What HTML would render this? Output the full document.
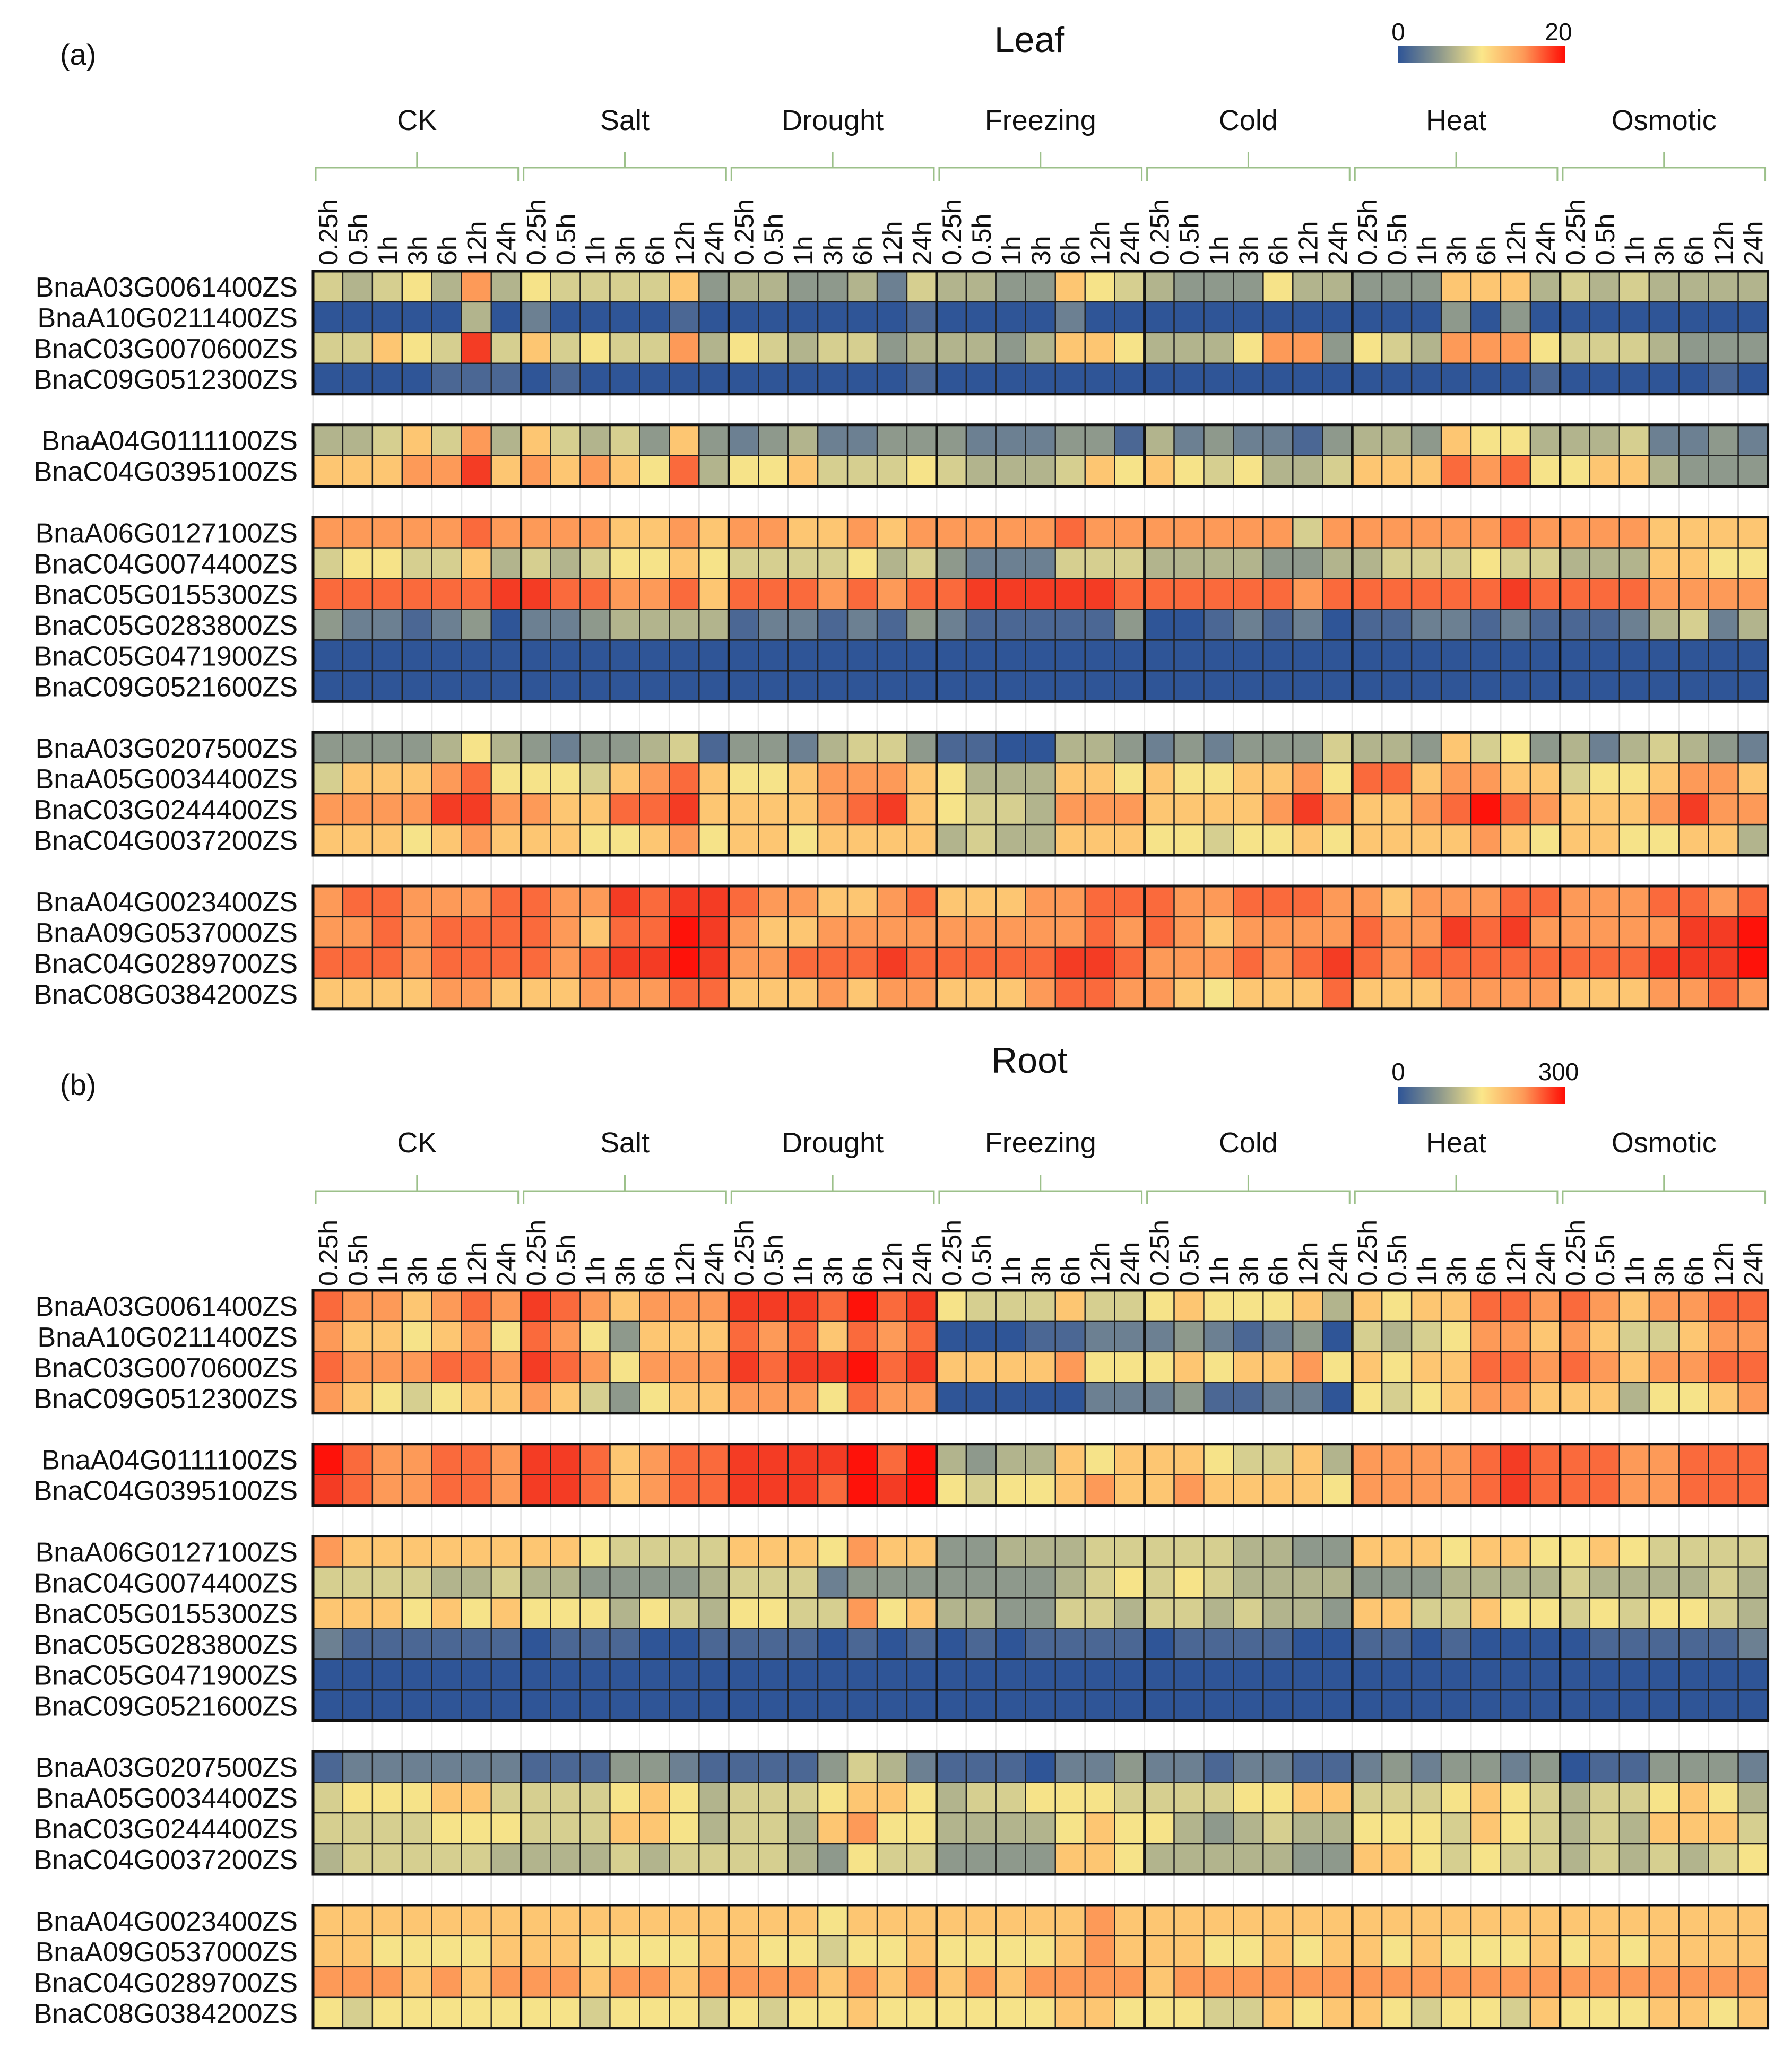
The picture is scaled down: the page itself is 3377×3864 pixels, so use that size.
<!DOCTYPE html>
<html><head><meta charset="utf-8">
<style>
html,body{margin:0;padding:0;background:#fff;}
svg{display:block;}
text{font-family:"Liberation Sans",sans-serif;fill:#111;}
</style></head>
<body>
<svg id="fig" xmlns="http://www.w3.org/2000/svg" width="3377" height="3864" viewBox="0 0 3377 3864">
<defs>
<linearGradient id="cbar" x1="0" x2="1" y1="0" y2="0">
<stop offset="0" stop-color="#2f5597"/><stop offset="0.25" stop-color="#8e998c"/><stop offset="0.5" stop-color="#fbe78a"/><stop offset="0.75" stop-color="#fd9a58"/><stop offset="1" stop-color="#ff0d05"/>
</linearGradient>
</defs>
<g id="root"></g>
</svg>
<script>
// ---------- data ----------
const genes = ["BnaA03G0061400ZS","BnaA10G0211400ZS","BnaC03G0070600ZS","BnaC09G0512300ZS","BnaA04G0111100ZS","BnaC04G0395100ZS","BnaA06G0127100ZS","BnaC04G0074400ZS","BnaC05G0155300ZS","BnaC05G0283800ZS","BnaC05G0471900ZS","BnaC09G0521600ZS","BnaA03G0207500ZS","BnaA05G0034400ZS","BnaC03G0244400ZS","BnaC04G0037200ZS","BnaA04G0023400ZS","BnaA09G0537000ZS","BnaC04G0289700ZS","BnaC08G0384200ZS"];
const blockSizes = [4,2,6,4,4];
const conditions = ["CK","Salt","Drought","Freezing","Cold","Heat","Osmotic"];
const times = ["0.25h","0.5h","1h","3h","6h","12h","24h"];
const leafTicks = ["0","20"];
const rootTicks = ["0","300"];
const leafMax = 20;
const rootMax = 300;
// leaf expression levels (hex digit 0..b scaled to 0..leafMax), 7 conditions x 7 times per row
const leafLevels = [
"5456484"+"6555573"+"4433425"+"4433765"+"4333644"+"3337774"+"5454444",
"0000040"+"2000010"+"0000001"+"0000200"+"0000000"+"0003030"+"0000000",
"55765a5"+"7565584"+"6545534"+"4434776"+"4446883"+"6548886"+"5554333",
"0000111"+"0100000"+"0000001"+"0000000"+"0000000"+"0000001"+"0000010",
"4457584"+"7545373"+"2342233"+"3222331"+"4232213"+"4437664"+"4452232",
"77788a7"+"8787694"+"6675556"+"5444576"+"7656445"+"7779896"+"6774333",
"8888898"+"8887787"+"8877878"+"8888988"+"8888858"+"8888898"+"8887777",
"5665574"+"5456676"+"5555645"+"3222555"+"4444334"+"4555655"+"4447766",
"999999a"+"a998897"+"9998989"+"9aaaaa9"+"9999989"+"99999a9"+"9998888",
"3221230"+"2234444"+"1221213"+"2111113"+"0012120"+"1122121"+"1124524",
"0000000"+"0000000"+"0000000"+"0000000"+"0000000"+"0000000"+"0000000",
"0000000"+"0000000"+"0000000"+"0000000"+"0000000"+"0000000"+"0000000",
"3333464"+"3233451"+"3324553"+"1100443"+"2323335"+"4437563"+"4245432",
"5777896"+"6657897"+"6678887"+"6444776"+"7667786"+"9978877"+"5667887",
"8888aa8"+"87799a7"+"77789a7"+"6554888"+"77778a8"+"7789b98"+"7778a88",
"7776787"+"7766786"+"7767777"+"4544777"+"6656676"+"7777876"+"7766774",
"8998889"+"988a9aa"+"9887789"+"7778899"+"9889998"+"8788899"+"8889989",
"8898999"+"98799ba"+"8778888"+"8888898"+"9878888"+"988a9a8"+"8888aab",
"9998999"+"989aaba"+"88999a9"+"9999aa9"+"888989a"+"9899999"+"999aaab",
"7777887"+"7788899"+"7778788"+"7778998"+"8767779"+"7778888"+"7778898"
];
// root expression levels (hex digit 0..b scaled to 0..rootMax)
const rootLevels = [
"9887898"+"a987888"+"aaa9b9a"+"6555755"+"6766674"+"7677998"+"9878899",
"8776786"+"9863777"+"9897989"+"0001122"+"2321230"+"5456887"+"8755788",
"9888998"+"a986888"+"a9aab9a"+"7777866"+"6767786"+"7677998"+"9878899",
"8765677"+"8753677"+"8886988"+"0000022"+"2311220"+"6567887"+"7746678",
"b988998"+"aa97899"+"aaaab9b"+"4344767"+"7765574"+"88889a9"+"9988999",
"a988998"+"aa97899"+"aaa9bab"+"6566787"+"7877776"+"88889a9"+"9988999",
"8777777"+"7765555"+"7776877"+"3344455"+"5554433"+"7776776"+"6765555",
"5555445"+"4433334"+"5552333"+"3333456"+"5654444"+"3334444"+"5444454",
"7776767"+"6664654"+"6655867"+"4433554"+"5545443"+"7755766"+"5656654",
"2111111"+"0111001"+"1110101"+"0101111"+"0111100"+"1101000"+"0111112",
"0000000"+"0000000"+"0000000"+"0000000"+"0000000"+"0000000"+"0000000",
"0000000"+"0000000"+"0000000"+"0000000"+"0000000"+"0000000"+"0000000",
"1222222"+"1113321"+"1113542"+"1110223"+"2212211"+"2323323"+"0113332",
"5666775"+"5556764"+"5556776"+"4556665"+"5556677"+"5556765"+"4556764",
"5555666"+"5557764"+"5547866"+"4444676"+"6434544"+"6665765"+"4547775",
"4555554"+"4445455"+"5543655"+"3333776"+"4444433"+"7765655"+"4545456",
"7777777"+"7777777"+"7776777"+"7777787"+"7777777"+"7777777"+"7777777",
"7766667"+"7766667"+"7665667"+"6666787"+"7766767"+"7676667"+"6767777",
"8887878"+"8878878"+"8887878"+"7878888"+"7888888"+"8888888"+"8888888",
"6566666"+"6656665"+"6566766"+"6666776"+"6655767"+"7656657"+"6667767"
];
// ---------- layout ----------
const NS = "http://www.w3.org/2000/svg";
const X0 = 590, CW = 55.95, PITCH = 57.95;
const palette = ["#2f5597","#4b6794","#6c8092","#8e998c","#b2b48d","#d6cf90","#f6e389","#fdc672","#fd9a58","#fa6a3c","#f43c24","#fe120a"];
function colorFor(v, max){ let i = Math.round(v/max*11); i=Math.max(0,Math.min(11,i)); return palette[i]; }
function xScale(c){ return X0 + c*CW; }
const svg = document.getElementById('root');
function el(tag, attrs, parent){ const e=document.createElementNS(NS,tag); for(const k in attrs) e.setAttribute(k,attrs[k]); (parent||svg).appendChild(e); return e; }

function rowUnit(i){ let acc=0; for(let b=0;b<blockSizes.length;b++){ if(i<acc+blockSizes[b]) return i+b; acc+=blockSizes[b]; } return i; }

function panel(cfg){
  const g = el('g',{});
  
  
  const Y0 = cfg.y0;
  const yScale = i => Y0 + rowUnit(i)*PITCH;
  const nCols = conditions.length*times.length;
  const totalUnits = genes.length + blockSizes.length - 1;
  for(let c=0;c<=nCols;c++){
    const gl = el('line',{x1:xScale(c),x2:xScale(c),y1:Y0,y2:Y0+totalUnits*PITCH,stroke:'#e6e6e6','stroke-width':3},g);
    
    
  }
  const levels = cfg.levels;
  for(let r=0;r<genes.length;r++){
    for(let c=0;c<nCols;c++){
      const v = parseInt(levels[r][c],16)/11*cfg.max;
      const rc = el('rect',{x:xScale(c),y:yScale(r),width:CW,height:PITCH,fill:colorFor(v,cfg.max),stroke:'#222','stroke-width':2.4},g);
      
      
    }
    const t = el('text',{x:561,y:yScale(r)+PITCH/2+19,'text-anchor':'end','font-size':52},g);
    t.textContent = genes[r];
    
    
  }
  let acc=0;
  for(let b=0;b<blockSizes.length;b++){
    const yt = yScale(acc), yb = yScale(acc)+blockSizes[b]*PITCH;
    const br = el('rect',{x:xScale(0),y:yt,width:nCols*CW,height:yb-yt,fill:'none',stroke:'#111','stroke-width':5},g);
    
    
    for(let k=1;k<conditions.length;k++){
      const sl = el('line',{x1:xScale(k*7),x2:xScale(k*7),y1:yt,y2:yb,stroke:'#111','stroke-width':5},g);
      
      
    }
    acc+=blockSizes[b];
  }
  for(let c=0;c<nCols;c++){
    const cx = xScale(c)+CW/2+18, by = cfg.labBottom;
    const t = el('text',{x:cx,y:by,'font-size':50,transform:`rotate(-90 ${cx} ${by})`},g);
    t.textContent = times[c%7];
    
    
  }
  for(let k=0;k<conditions.length;k++){
    const xs = xScale(k*7)+5, xe = xScale(k*7+7)-5, xm=(xs+xe)/2;
    const p = el('path',{d:`M${xs},${cfg.brBot} L${xs},${cfg.brH} L${xe},${cfg.brH} L${xe},${cfg.brBot} M${xm},${cfg.brH} L${xm},${cfg.brTop}`,fill:'none',stroke:'#9cc08a','stroke-width':3},g);
    
    
    const t = el('text',{x:xm,y:cfg.condY,'text-anchor':'middle','font-size':54},g);
    t.textContent = conditions[k];
    
    
  }
  const tt = el('text',{x:1940,y:cfg.titleY,'text-anchor':'middle','font-size':68},g);
  tt.textContent = cfg.title;
  
  
  const pl = el('text',{x:113,y:cfg.letterY,'font-size':56},g);
  pl.textContent = cfg.letter;
  
  
  const cb = el('rect',{x:2635,y:cfg.cbY,width:314,height:32,fill:'url(#cbar)'},g);
  
  
  const t0 = el('text',{x:2635,y:cfg.cbLabY,'text-anchor':'middle','font-size':46},g);
  t0.textContent = cfg.ticks[0];
  
  
  const t1 = el('text',{x:2937,y:cfg.cbLabY,'text-anchor':'middle','font-size':46},g);
  t1.textContent = cfg.ticks[1];
  
  
}

panel({name:'leaf',title:'Leaf',letter:'(a)',levels:leafLevels,max:leafMax,ticks:leafTicks,y0:511,labBottom:500,brTop:287,brH:316,brBot:341,condY:245,titleY:98,letterY:122,cbY:87,cbLabY:76});
panel({name:'root',title:'Root',letter:'(b)',levels:rootLevels,max:rootMax,ticks:rootTicks,y0:2432,labBottom:2424,brTop:2215,brH:2245,brBot:2269,condY:2172,titleY:2022,letterY:2064,cbY:2049,cbLabY:2036});
</script>
</body></html>
